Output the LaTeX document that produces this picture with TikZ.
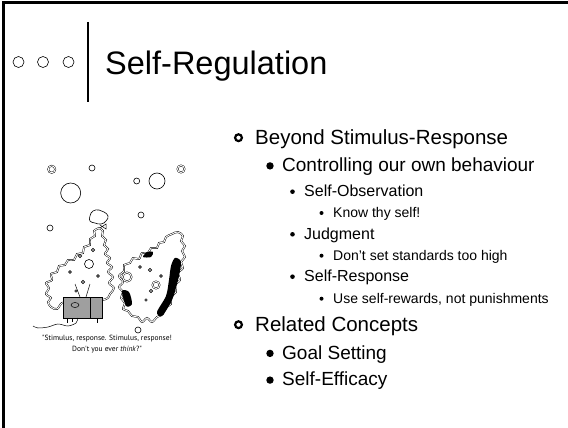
\documentclass[tikz,border=0pt]{standalone}
\usepackage{fontspec}
\setmainfont{Liberation Sans}
\newfontfamily\capfont{PT Sans}
\usepackage{tikz}
\usetikzlibrary{positioning, calc}

\begin{document}
\begin{tikzpicture}[x=1pt, y=-1pt, every node/.style={inner sep=0pt, anchor=base west},
	title/.style={font=\fontsize{32.5}{38}\selectfont},
	lvlone/.style={font=\fontsize{20.5}{24}\selectfont},
	lvltwo/.style={font=\fontsize{19}{23}\selectfont},
	lvlthree/.style={font=\fontsize{16}{19}\selectfont},
	lvlfour/.style={font=\fontsize{14}{17}\selectfont},
	caption/.style={font=\capfont\fontsize{7.5}{9}\selectfont, anchor=center},
	blob/.style={double, double distance=0.9pt, line width=0.45pt},
	bubble/.style={line width=0.6pt}]
	\useasboundingbox (0,0) rectangle (568,428);
	%% frame and title bar
	\draw [line width=3pt] (568,3) -- (3,3) -- (3,428);
	\draw [line width=0.6pt] (18.5,62) circle (5.5) (43,62) circle (5.5) (68.5,62) circle (5.5);
	\draw [line width=2pt] (88,22) -- (88,102);
	\node[title] (head) at (105,75) {Self-Regulation};
	
	%% bullet list
	\node[lvlone] (beyond) at (255,144) {Beyond Stimulus-Response};
	\node[lvltwo] (control) at (282,171.5) {Controlling our own behaviour};
	\node[lvlthree] (observ) at (304,196.7) {Self-Observation};
	\node[lvlfour] (know) at (333,217.3) {Know thy self!};
	\node[lvlthree] (judge) at (304,239.3) {Judgment};
	\node[lvlfour] (standards) at (333,260) {Don't set standards too high};
	\node[lvlthree] (respon) at (304,281.7) {Self-Response};
	\node[lvlfour] (rewards) at (333,303) {Use self-rewards, not punishments};
	\node[lvlone] (related) at (255,331) {Related Concepts};
	\node[lvltwo] (goal) at (282,359) {Goal Setting};
	\node[lvltwo] (efficacy) at (282,385.7) {Self-Efficacy};
	\foreach \n in {beyond, related}
		\draw [line width=2.2pt] ($(\n.base west)+(-16.5,-6.3)$) circle (3.4);
	\foreach \n in {control, goal, efficacy}
		\fill ($(\n.base west)+(-12,-5.6)$) circle (3.7);
	\foreach \n in {observ, judge, respon}
		\fill ($(\n.base west)+(-11.5,-5)$) circle (2.3);
	\foreach \n in {know, standards, rewards}
		\fill ($(\n.base west)+(-11.5,-4.3)$) circle (2);
	
	%% cartoon: bubbles
	\draw [bubble] (70.7,193) circle (10) (157,181) circle (8) (92,168) circle (3) (136.7,181) circle (3)
		(141,215) circle (3) (50,228) circle (3) (138,330) circle (3);
	\draw [blob] (51.7,169.3) circle (3.5) (181,169) circle (3.5);
	%% left amoeba
	\draw [blob, fill=white] plot[smooth cycle, tension=0.6] coordinates {(99,228) (103,231) (102,236) (106,240)
		(104,245) (108,249) (105,254) (110,258) (107,263) (112,267) (108,272) (113,277) (109,283) (114,288)
		(110,294) (106,299) (90,302) (70,302) (62,303) (57,309) (51,307) (48,302) (51,298) (46,294) (49,288)
		(46,283) (52,280) (51,274) (57,272) (59,266) (65,265) (68,260) (74,260) (77,254) (83,253) (84,247)
		(90,245) (90,239) (95,236) (94,231) (97,229)};
	\draw [bubble, fill=white] plot[smooth cycle, tension=0.8] coordinates {(90,216) (93,211) (99,210) (104,212)
		(108,216) (106,221) (101,224) (95,223) (90,221)};
	\draw [line width=0.5pt] (100,225) -- (106,229) -- (106,224) -- (100,228);
	\draw [bubble] (89,264) circle (4.5) (80,256) circle (1.6) (93,250) circle (1.6) (70,272) circle (1.4)
		(83,282) circle (1.6) (76,291) circle (1.3) (98,276) circle (1.4);
	%% right amoeba
	\draw [blob, fill=white] plot[smooth cycle, tension=0.6] coordinates {(172,234) (178,232) (183,236) (181,241)
		(185,246) (182,251) (185,257) (181,262) (183,268) (178,273) (180,280) (175,285) (176,292) (171,297)
		(171,304) (165,308) (163,314) (157,317) (152,322) (147,318) (142,322) (138,317) (132,316) (128,311)
		(123,309) (125,303) (121,298) (123,292) (119,287) (123,282) (119,276) (124,271) (124,265) (130,263)
		(133,258) (139,259) (142,253) (148,253) (151,248) (157,248) (159,243) (164,242) (166,237)};
	\fill plot[smooth cycle] coordinates {(143,257) (147,252) (153,252) (151,257)};
	\fill plot[smooth cycle] coordinates {(175,258) (181,262) (178,280) (172,300) (162,316) (157,312) (166,296)
		(169,280) (171,266)};
	\fill plot[smooth cycle] coordinates {(122,291) (129,292) (132,304) (126,306)};
	\draw [blob] (127,277) circle (4.5) (156,285) circle (3.5);
	\draw [bubble] (150,270) circle (1.6) (140,267) circle (1.4) (161,276) circle (1.4) (146,300) circle (1.3)
		(151,291) circle (1.6);
	%% television
	\draw [line width=0.5pt] (80,297) -- (75,284) (86,297) -- (90,284);
	\draw [fill=gray!75, line width=0.6pt] (63,297) rectangle (102,318);
	\draw [line width=0.6pt] (90,297) -- (90,318);
	\draw [line width=0.5pt] (75,305) ellipse (4 and 2.5);
	\draw [line width=0.8pt] (67,318) -- (67,323) (72,318) -- (72,322) (97,318) -- (97,323);
	\draw [line width=0.5pt] plot[smooth] coordinates {(78,318) (76,323) (68,326) (58,324) (48,327) (38,328) (33,326)};
	
	\node[caption] (capone) at (107,339) {"Stimulus, response. Stimulus, response!};
	\node[caption] (captwo) at (107,349.5) {Don't you ever \textit{think}?"};
\end{tikzpicture}
\end{document}
